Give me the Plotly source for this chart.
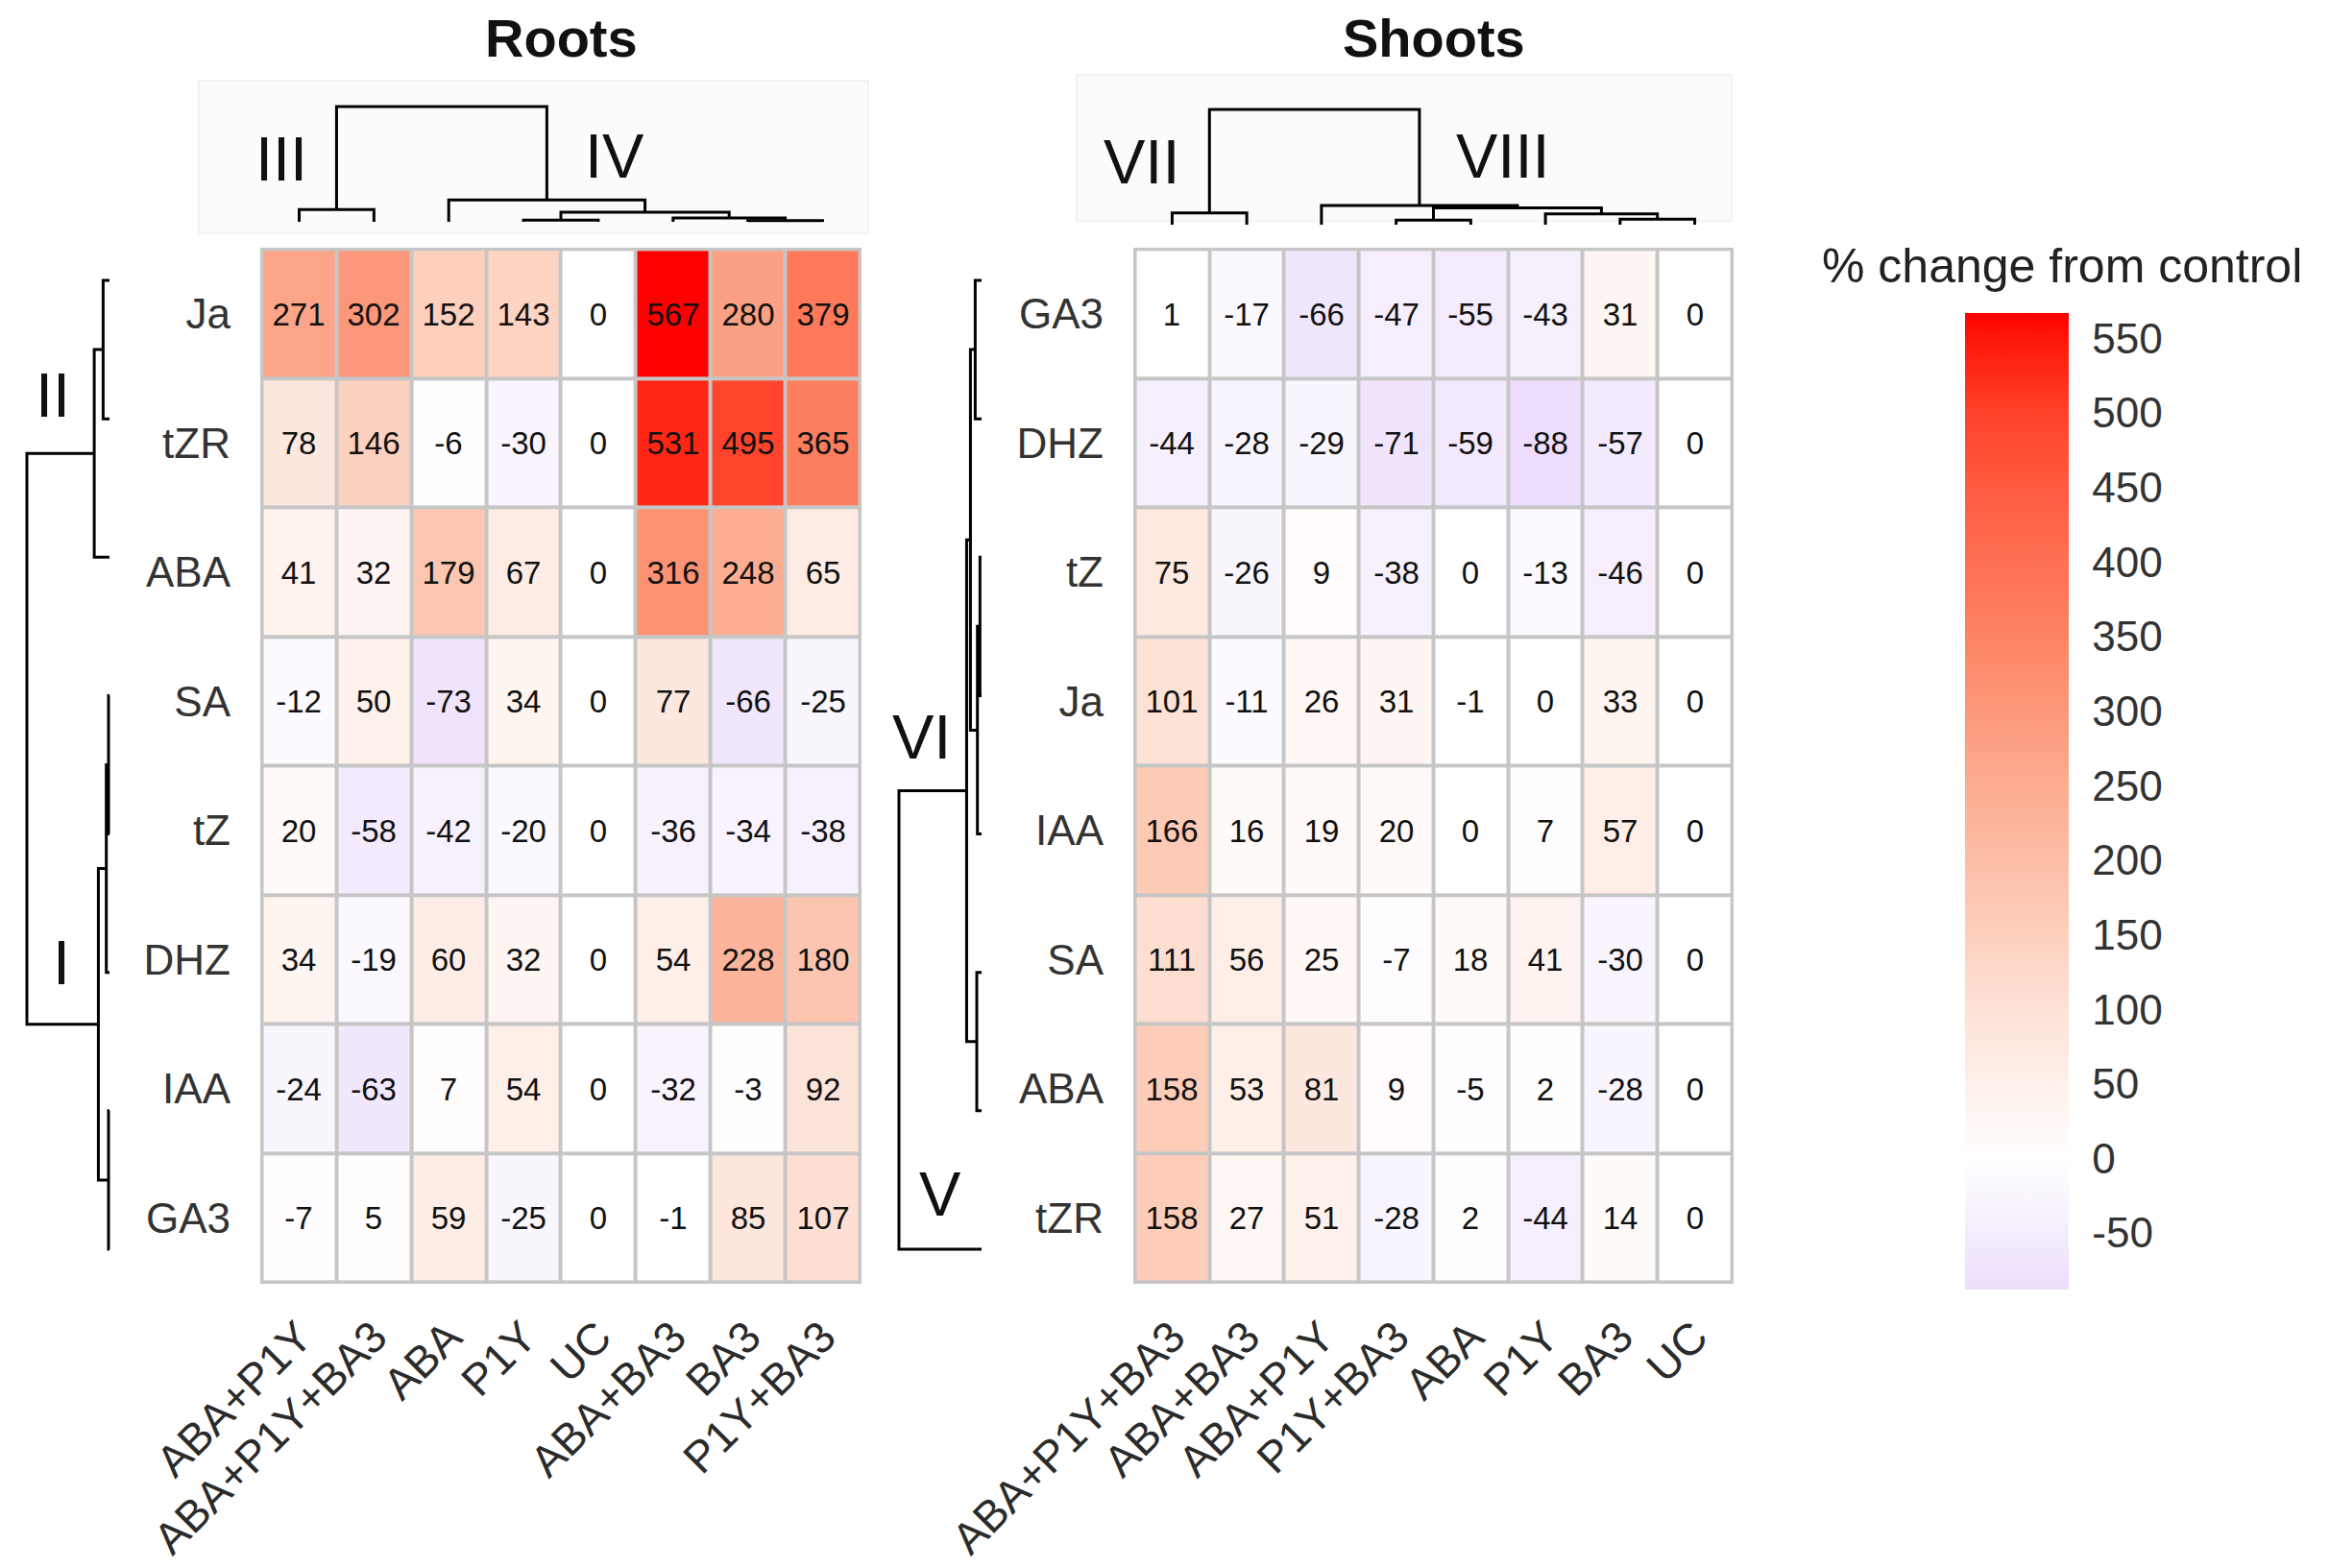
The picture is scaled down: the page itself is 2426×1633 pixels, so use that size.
import plotly.graph_objects as go

W, H = 2426, 1633
FONT = "Liberation Sans, Arial, Helvetica, sans-serif"

# ---------------- data ----------------
ROOT_ROWS = ["Ja", "tZR", "ABA", "SA", "tZ", "DHZ", "IAA", "GA3"]
ROOT_COLS = ["ABA+P1Y", "ABA+P1Y+BA3", "ABA", "P1Y", "UC", "ABA+BA3", "BA3", "P1Y+BA3"]
ROOT_VALUES = [
    [271, 302, 152, 143, 0, 567, 280, 379],
    [78, 146, -6, -30, 0, 531, 495, 365],
    [41, 32, 179, 67, 0, 316, 248, 65],
    [-12, 50, -73, 34, 0, 77, -66, -25],
    [20, -58, -42, -20, 0, -36, -34, -38],
    [34, -19, 60, 32, 0, 54, 228, 180],
    [-24, -63, 7, 54, 0, -32, -3, 92],
    [-7, 5, 59, -25, 0, -1, 85, 107],
]

SHOOT_ROWS = ["GA3", "DHZ", "tZ", "Ja", "IAA", "SA", "ABA", "tZR"]
SHOOT_COLS = ["ABA+P1Y+BA3", "ABA+BA3", "ABA+P1Y", "P1Y+BA3", "ABA", "P1Y", "BA3", "UC"]
SHOOT_VALUES = [
    [1, -17, -66, -47, -55, -43, 31, 0],
    [-44, -28, -29, -71, -59, -88, -57, 0],
    [75, -26, 9, -38, 0, -13, -46, 0],
    [101, -11, 26, 31, -1, 0, 33, 0],
    [166, 16, 19, 20, 0, 7, 57, 0],
    [111, 56, 25, -7, 18, 41, -30, 0],
    [158, 53, 81, 9, -5, 2, -28, 0],
    [158, 27, 51, -28, 2, -44, 14, 0],
]

# dendrogram merges (child_a, child_b, height); leaves 0..7, new clusters numbered 8, 9, ...
ROOT_COL_MERGES = [(3, 4, 5), (6, 7, 4), (5, 9, 12), (8, 10, 30), (0, 1, 38), (2, 11, 68), (12, 13, 360)]
ROOT_ROW_MERGES = [(0, 1, 20), (8, 2, 48), (3, 4, 3), (10, 5, 10), (6, 7, 3), (11, 12, 35), (9, 13, 260)]
SHOOT_COL_MERGES = [(0, 1, 37), (3, 4, 14), (6, 7, 17), (5, 10, 34), (9, 11, 52), (2, 12, 60), (8, 13, 359)]
SHOOT_ROW_MERGES = [(0, 1, 20), (2, 3, 5), (9, 4, 13), (8, 10, 35), (5, 6, 15), (11, 12, 47), (13, 7, 260)]

CLUSTER_LABELS = ["III", "IV", "VII", "VIII", "II", "I", "VI", "V"]

CBAR_TICKS = [-50, 0, 50, 100, 150, 200, 250, 300, 350, 400, 450, 500, 550]
ZMIN, ZMAX = -88, 567

COLOR_STOPS = [
    (-88, "rgb(236,222,252)"), (-50, "rgb(245,237,253)"), (0, "rgb(255,255,255)"),
    (50, "rgb(254,240,234)"), (100, "rgb(253,226,214)"), (150, "rgb(253,208,190)"),
    (200, "rgb(252,190,166)"), (250, "rgb(252,172,145)"), (300, "rgb(252,152,122)"),
    (350, "rgb(253,132,100)"), (400, "rgb(254,112,82)"), (450, "rgb(255,92,64)"),
    (500, "rgb(255,65,42)"), (550, "rgb(255,22,10)"), (567, "rgb(255,0,0)"),
]
colorscale = [[(v - ZMIN) / (ZMAX - ZMIN), c] for v, c in COLOR_STOPS]


# ---------------- helpers ----------------
def dendro(merges, n):
    pos = [float(i) for i in range(n)]
    hgt = [0.0] * n
    p, h = [], []
    for a, b, ht in merges:
        p += [pos[a], pos[a], pos[b], pos[b], None]
        h += [hgt[a], ht, ht, hgt[b], None]
        pos.append((pos[a] + pos[b]) / 2)
        hgt.append(ht)
    return p, h


def lin(v0, q0, v1, q1, p):
    return v0 + (p - q0) * (v1 - v0) / (q1 - q0)


def xdom(p0, p1):
    return [p0 / W, p1 / W]


def ydom(ptop, pbot):
    return [1 - pbot / H, 1 - ptop / H]


def hidden(**kw):
    d = dict(visible=False, showgrid=False, zeroline=False, fixedrange=True, automargin=False)
    d.update(kw)
    return d


fig = go.Figure()

# ---------------- geometry (pixels) ----------------
HM_TOP, HM_BOT = 250, 1329
ROOT_X = (263, 889)
SHOOT_X = (1172, 1797)

# heatmaps
for vals, rows, cols, xa, ya in [
    (ROOT_VALUES, ROOT_ROWS, ROOT_COLS, "x", "y"),
    (SHOOT_VALUES, SHOOT_ROWS, SHOOT_COLS, "x2", "y2"),
]:
    fig.add_trace(go.Heatmap(
        z=vals, x=list(range(len(cols))), y=list(range(len(rows))),
        text=[[str(v) for v in row] for row in vals],
        coloraxis="coloraxis", xgap=4, ygap=4,
        texttemplate="%{text}", textfont=dict(family=FONT, size=33, color="#111111"),
        hoverinfo="skip", xaxis=xa, yaxis=ya,
    ))

for i, (xr, rows, cols) in enumerate([(ROOT_X, ROOT_ROWS, ROOT_COLS), (SHOOT_X, SHOOT_ROWS, SHOOT_COLS)]):
    sx = "" if i == 0 else "2"
    fig.layout["xaxis" + sx] = dict(
        domain=xdom(*xr), range=[-0.52, 7.52], anchor="y" + sx,
        tickvals=list(range(len(cols))), ticktext=cols, tickangle=-45,
        tickfont=dict(family=FONT, size=46, color="#2b2b2b"),
        ticks="", showgrid=False, zeroline=False, showline=False,
        ticklabelstandoff=18, fixedrange=True, automargin=False,
    )
    fig.layout["yaxis" + sx] = dict(
        domain=ydom(HM_TOP, HM_BOT), range=[7.51, -0.51], anchor="x" + sx,
        tickvals=list(range(len(rows))), ticktext=rows,
        tickfont=dict(family=FONT, size=44, color="#333333"),
        ticks="", showgrid=False, zeroline=False, showline=False,
        ticklabelstandoff=30, fixedrange=True, automargin=False,
    )

# top dendrograms
for merges, xr, base_px, top_px, top_h, xa, ya in [
    (ROOT_COL_MERGES, ROOT_X, 223, 103, 360, "x3", "y3"),
    (SHOOT_COL_MERGES, SHOOT_X, 226, 106, 359, "x4", "y4"),
]:
    p, h = dendro(merges, 8)
    fig.add_trace(go.Scatter(x=p, y=h, mode="lines", line=dict(color="black", width=3),
                             hoverinfo="skip", showlegend=False, xaxis=xa, yaxis=ya))
    dt, db = 88, 232
    fig.layout["xaxis" + xa[1:]] = hidden(domain=xdom(*xr), range=[-0.52, 7.52], anchor=ya)
    fig.layout["yaxis" + ya[1:]] = hidden(
        domain=ydom(dt, db), anchor=xa,
        range=[lin(0, base_px, top_h, top_px, db), lin(0, base_px, top_h, top_px, dt)],
    )

# left dendrograms
LEAF_TOP, LEAF_BOT = 284, 1293
for merges, leaf_px, root_px, xa, ya in [
    (ROOT_ROW_MERGES, 106, 20, "x5", "y5"),
    (SHOOT_ROW_MERGES, 1014, 928, "x6", "y6"),
]:
    p, h = dendro(merges, 8)
    fig.add_trace(go.Scatter(x=h, y=p, mode="lines", line=dict(color="black", width=3),
                             hoverinfo="skip", showlegend=False, xaxis=xa, yaxis=ya))
    l, r = root_px - 12, leaf_px + 6
    t, b = 200, 1390
    fig.layout["xaxis" + xa[1:]] = hidden(
        domain=xdom(l, r), anchor=ya,
        range=[lin(0, leaf_px, 260, root_px, l), lin(0, leaf_px, 260, root_px, r)],
    )
    fig.layout["yaxis" + ya[1:]] = hidden(
        domain=ydom(t, b), anchor=xa,
        range=[lin(0, LEAF_TOP, 7, LEAF_BOT, b), lin(0, LEAF_TOP, 7, LEAF_BOT, t)],
    )

# colour axis / colour bar
CB_TOP, CB_BOT = 318, 1335
fig.update_layout(coloraxis=dict(
    colorscale=colorscale, cmin=ZMIN, cmax=ZMAX,
    colorbar=dict(
        x=2038 / W, xanchor="left", y=1 - (CB_TOP + CB_BOT) / 2 / H, yanchor="middle",
        len=(CB_BOT - CB_TOP) / H, lenmode="fraction", thickness=108, thicknessmode="pixels",
        xpad=0, ypad=0,
        outlinewidth=0, tickvals=CBAR_TICKS, ticktext=[str(t) for t in CBAR_TICKS],
        ticks="outside", ticklen=16, tickcolor="white",
        tickfont=dict(family=FONT, size=44, color="#333333"),
    ),
))

# background shapes
shapes = []
for sx in ["", "2"]:
    shapes.append(dict(type="rect", xref=("x" + sx + " domain"), yref=("y" + sx + " domain"),
                       x0=0, x1=1, y0=0, y1=1, fillcolor="#C6C6C6", line=dict(width=0), layer="below"))
for (x0, x1, y0, y1) in [(199, 896, 76, 235), (1113, 1795, 70, 222)]:
    shapes.append(dict(type="rect", xref="paper", yref="paper", x0=x0 / W, x1=x1 / W,
                       y0=1 - y1 / H, y1=1 - y0 / H, fillcolor="#FBFBFB",
                       line=dict(color="#F3F3F3", width=2), layer="below"))
fig.update_layout(shapes=shapes)

# annotations
ann = []


def add_text(text, px, py, size, bold=False, color="#111111", family=FONT):
    ann.append(dict(text=("<b>%s</b>" % text) if bold else text, x=px / W, y=1 - py / H,
                    xref="paper", yref="paper", showarrow=False, xanchor="center", yanchor="middle",
                    font=dict(family=family, size=size, color=color)))


add_text("Roots", (ROOT_X[0] + ROOT_X[1]) / 2, 32, 56, bold=True)
add_text("Shoots", (SHOOT_X[0] + SHOOT_X[1]) / 2, 32, 56, bold=True)
NUM_POS = [(285, 158), (632, 154), (1180, 161), (1557, 154), (47, 404), (56, 994), (951, 760), (971, 1235)]
for t, (x, y) in zip(CLUSTER_LABELS, NUM_POS):
    add_text(t, x, y, 65)
add_text("% change from control", 2139, 269, 50, color="#222222")
fig.update_layout(annotations=ann)

fig.update_layout(
    width=W, height=H, margin=dict(l=0, r=0, t=0, b=0, autoexpand=False),
    paper_bgcolor="white", plot_bgcolor="white",
    font=dict(family=FONT), showlegend=False,
)

fig.write_html("out.html")
